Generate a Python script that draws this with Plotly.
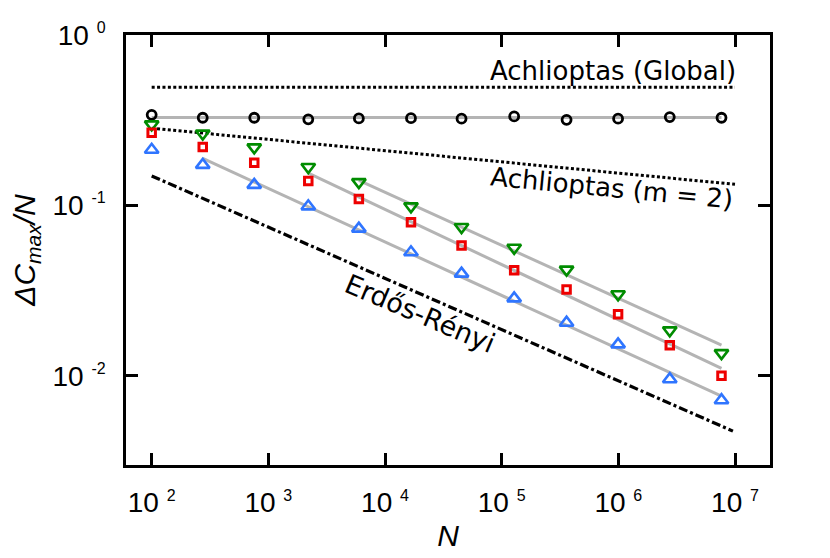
import plotly.graph_objects as go

# ---------------- data ----------------
N = [100, 274, 757, 2200, 5970, 16700, 45300, 128000, 360000, 995000, 2760000, 7660000]
global_vals = [0.340, 0.327, 0.327, 0.320, 0.324, 0.325, 0.323, 0.333, 0.318, 0.323, 0.330, 0.327]
green_vals = [0.299, 0.264, 0.219, 0.168, 0.137, 0.0988, 0.0747, 0.0564, 0.0420, 0.0301, 0.0185, 0.0136]
red_vals = [0.267, 0.220, 0.178, 0.139, 0.109, 0.0796, 0.0581, 0.0417, 0.0321, 0.0230, 0.0151, 0.0100]
blue_vals = [0.212, 0.173, 0.132, 0.0988, 0.0731, 0.0531, 0.0398, 0.0285, 0.0205, 0.0153, 0.00956, 0.00720]

# gray fit lines (end points)
fit_global_N = [100, 7660000]
fit_global_v = [0.328, 0.328]
fit_green_N = [5970, 7660000]
fit_green_v = [0.1403, 0.01514]
fit_red_N = [2200, 7660000]
fit_red_v = [0.1548, 0.01105]
fit_blue_N = [274, 7660000]
fit_blue_v = [0.1888, 0.0076]

# reference curves
ref_N = [100, 10000000]
achl_global_v = [0.494, 0.494]
achl_m2_v = [0.284, 0.133]
er_N = [100, 9600000]
er_v = [0.149, 0.00474]

x_tickvals = [1e2, 1e3, 1e4, 1e5, 1e6, 1e7]
x_exps = ["2", "3", "4", "5", "6", "7"]
y_tickvals = [1e0, 1e-1, 1e-2]
y_exps = ["0", "-1", "-2"]

GRAY = "#b4b4b4"
GREEN = "#008c00"
RED = "#ee0000"
BLUE = "#2f75ff"


def tick_label(e):
    return "10\u00a0<sup><span style='font-size:16px'>" + e + "</span></sup>"


fig = go.Figure()

DOT = "3px,2.4px"

fig.add_trace(go.Scatter(x=ref_N, y=achl_global_v, mode="lines",
                         line=dict(color="black", width=3, dash=DOT),
                         showlegend=False, hoverinfo="skip"))
for xs, ys in [(fit_global_N, fit_global_v), (fit_green_N, fit_green_v),
               (fit_red_N, fit_red_v), (fit_blue_N, fit_blue_v)]:
    fig.add_trace(go.Scatter(x=xs, y=ys, mode="lines",
                             line=dict(color=GRAY, width=3),
                             showlegend=False, hoverinfo="skip"))

fig.add_trace(go.Scatter(x=ref_N, y=achl_m2_v, mode="lines",
                         line=dict(color="black", width=3, dash=DOT),
                         showlegend=False, hoverinfo="skip"))
fig.add_trace(go.Scatter(x=er_N, y=er_v, mode="lines",
                         line=dict(color="black", width=3.2, dash="9px,3px,3px,3px"),
                         showlegend=False, hoverinfo="skip"))

fig.add_trace(go.Scatter(x=N, y=global_vals, mode="markers",
                         marker=dict(symbol="circle-open", size=9, color="black",
                                     line=dict(width=2.8, color="black")),
                         showlegend=False))
fig.add_trace(go.Scatter(x=N, y=green_vals, mode="markers",
                         marker=dict(symbol="triangle-down-open", size=12, color=GREEN,
                                     line=dict(width=2.6, color=GREEN)),
                         showlegend=False))
fig.add_trace(go.Scatter(x=N, y=red_vals, mode="markers",
                         marker=dict(symbol="square-open", size=7.5, color=RED,
                                     line=dict(width=3, color=RED)),
                         showlegend=False))
fig.add_trace(go.Scatter(x=N, y=blue_vals, mode="markers",
                         marker=dict(symbol="triangle-up-open", size=12, color=BLUE,
                                     line=dict(width=2.6, color=BLUE)),
                         showlegend=False))

ann_font = dict(family="DejaVu Sans", size=26, color="black")
fig.add_annotation(x=7.024, y=-0.214, xref="x", yref="y", text="Achlioptas (Global)",
                   showarrow=False, xanchor="right", yanchor="middle", font=ann_font)
fig.add_annotation(x=5.944, y=-0.900, xref="x", yref="y", text="Achlioptas (m = 2)",
                   showarrow=False, textangle=5.5, font=ann_font)
fig.add_annotation(x=4.299, y=-1.635, xref="x", yref="y", text="Erdős-Rényi",
                   showarrow=False, textangle=23, font=dict(family="DejaVu Sans", size=27, color="black"))

axis_common = dict(
    type="log",
    showgrid=False, zeroline=False,
    showline=True, linecolor="black", linewidth=2.5, mirror="ticks",
    ticks="inside", ticklen=12, tickwidth=2.5, tickcolor="black",
    tickfont=dict(family="Liberation Sans", size=28, color="black"),
)

fig.update_xaxes(**axis_common, range=[1.78, 7.30],
                 tickvals=x_tickvals, ticktext=[tick_label(e) for e in x_exps],
                 ticklabelstandoff=11,
                 title=dict(text="<i>N</i>", font=dict(family="Liberation Sans", size=30, color="black"),
                            standoff=8))
fig.update_yaxes(**axis_common, range=[-2.523, 0],
                 tickvals=y_tickvals, ticktext=[tick_label(e) for e in y_exps],
                 ticklabelstandoff=12,
                 title=dict(text="<i>ΔC<sub>max</sub>/N</i>",
                            font=dict(family="Liberation Sans", size=30, color="black"),
                            standoff=10))

# the page body adds an 8px margin; the figure is sized and padded to compensate
fig.update_layout(width=822, height=550,
                  margin=dict(l=118, r=60, t=27, b=93, autoexpand=False),
                  paper_bgcolor="white", plot_bgcolor="white")

fig.write_html("out.html")
